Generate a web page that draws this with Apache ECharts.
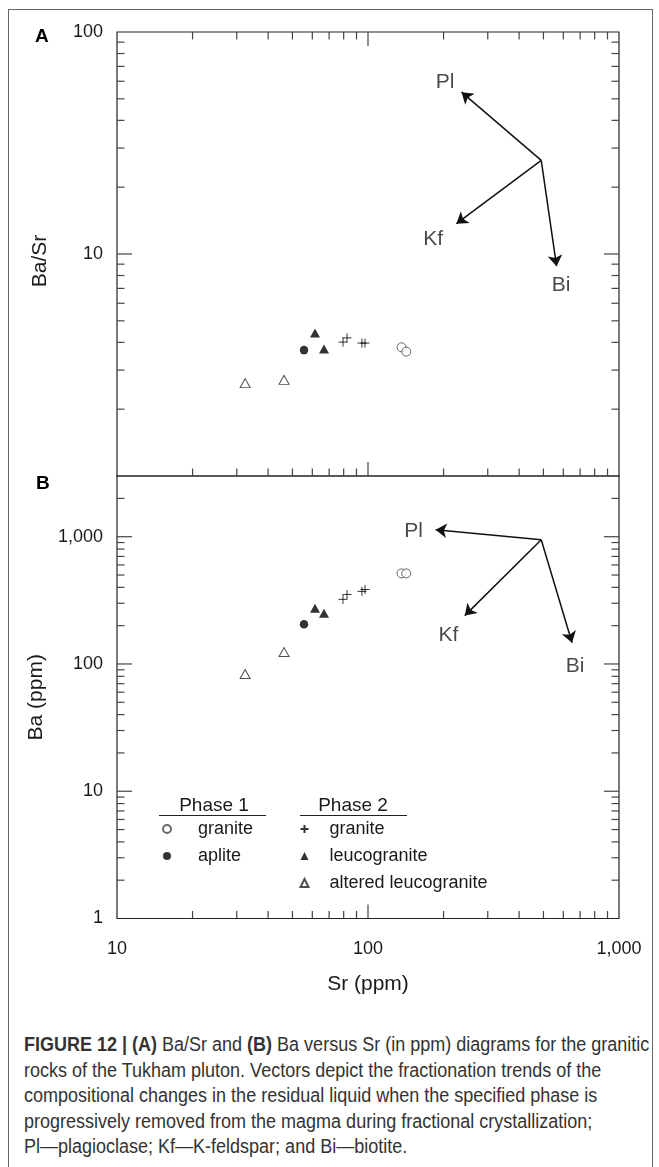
<!DOCTYPE html>
<html>
<head>
<meta charset="utf-8">
<title>Ba/Sr and Ba vs Sr</title>
<script src="https://cdn.jsdelivr.net/npm/echarts@6/dist/echarts.min.js"></script>
<style>
  html, body { margin: 0; padding: 0; background: #fff; width: 659px; height: 1167px; overflow: hidden; }
  #frame { position: absolute; left: 8px; top: 9px; width: 645px; height: 1220px; border: 1px solid #666; box-sizing: border-box; }
  #main { position: absolute; left: 0; top: 0; width: 659px; height: 1010px; }
  #caption {
    position: absolute; left: 24px; top: 1032px;
    font-family: 'Liberation Sans', Arial, sans-serif;
    font-size: 20px; line-height: 25.5px; color: #333; white-space: nowrap;
    transform: scaleX(0.9); transform-origin: 0 0;
  }
</style>
</head>
<body>
<div id="frame"></div>
<div id="main"></div>
<div id="caption">
  <b>FIGURE 12 | (A)</b> Ba/Sr and <b>(B)</b> Ba versus Sr (in ppm) diagrams for the granitic<br>
  rocks of the Tukham pluton. Vectors depict the fractionation trends of the<br>
  compositional changes in the residual liquid when the specified phase is<br>
  progressively removed from the magma during fractional crystallization;<br>
  Pl—plagioclase; Kf—K-feldspar; and Bi—biotite.
</div>
<script>
// ---- data ----
// Phase 1 granite (open circle)
const srGranite1 = [136, 142];
const baSrGranite1 = [3.80, 3.63];
const baGranite1 = [515, 515];
// Phase 1 aplite (filled circle)
const srAplite = [55.6];
const baSrAplite = [3.69];
const baAplite = [205];
// Phase 2 granite (plus)
const srGranite2 = [79.5, 82.5, 94.6, 97.3];
const baSrGranite2 = [4.01, 4.19, 3.97, 3.97];
const baGranite2 = [322, 352, 372, 385];
// Phase 2 leucogranite (filled triangle)
const srLeuco = [61.5, 66.8];
const baSrLeuco = [4.41, 3.73];
const baLeuco = [274, 250];
// Phase 2 altered leucogranite (open triangle)
const srAltered = [32.4, 46.3];
const baSrAltered = [2.62, 2.71];
const baAltered = [83.5, 124];

// fractionation vectors
const vecNames = ['Pl', 'Kf', 'Bi'];
const vecStartA = [490, 26.4];
const vecEndSrA = [236, 225, 564];
const vecEndA = [53.6, 13.7, 8.81];
const vecLabelSrA = [203, 182, 588];
const vecLabelA = [59.2, 11.6, 7.25];
const vecStartB = [490, 947];
const vecEndSrB = [186, 243, 650];
const vecEndB = [1135, 240, 147];
const vecLabelSrB = [152, 209, 668];
const vecLabelB = [1114, 167, 95.6];

// tick values
const xMajorTicks = [100];
const xMinorTicks = [20, 30, 40, 50, 60, 70, 80, 90, 200, 300, 400, 500, 600, 700, 800, 900];
const yMajorTicksA = [10];
const yMinorTicksA = [2, 3, 4, 5, 6, 7, 8, 9, 20, 30, 40, 50, 60, 70, 80, 90];
const yMajorTicksB = [10, 100, 1000];
const yMinorTicksB = [2, 3, 4, 5, 6, 7, 8, 9, 20, 30, 40, 50, 60, 70, 80, 90,
  200, 300, 400, 500, 600, 700, 800, 900, 2000];

const legendPhase1 = ['granite (Phase 1)', 'aplite'];
const legendPhase2 = ['granite (Phase 2)', 'leucogranite', 'altered leucogranite'];

const FONT = "'Liberation Sans', Arial, sans-serif";
const INK = '#1a1a1a';
const TICK = '#444';

const zip = (xs, ys) => xs.map((x, i) => [x, ys[i]]);

// one scatter series per rock group
const groups = [
  { name: 'granite (Phase 1)', sr: srGranite1, a: baSrGranite1, b: baGranite1,
    symbol: 'circle', size: 9, style: { color: '#fff', borderColor: '#444', borderWidth: 1 } },
  { name: 'aplite', sr: srAplite, a: baSrAplite, b: baAplite,
    symbol: 'circle', size: 8.5, style: { color: '#000' } },
  { name: 'granite (Phase 2)', sr: srGranite2, a: baSrGranite2, b: baGranite2,
    symbol: 'path://M5,0V10M0,5H10', size: 9, style: { color: 'none', borderColor: '#000', borderWidth: 1 } },
  { name: 'leucogranite', sr: srLeuco, a: baSrLeuco, b: baLeuco,
    symbol: 'triangle', size: [10, 9], style: { color: '#000' } },
  { name: 'altered leucogranite', sr: srAltered, a: baSrAltered, b: baAltered,
    symbol: 'triangle', size: [10, 9], style: { color: '#fff', borderColor: '#222', borderWidth: 1 } }
];

const series = [];
groups.forEach(g => {
  series.push({
    name: g.name, type: 'scatter', xAxisIndex: 0, yAxisIndex: 0,
    symbol: g.symbol, symbolSize: g.size, itemStyle: g.style,
    data: zip(g.sr, g.a), z: 5
  });
  series.push({
    name: g.name, type: 'scatter', xAxisIndex: 1, yAxisIndex: 1,
    symbol: g.symbol, symbolSize: g.size, itemStyle: g.style,
    data: zip(g.sr, g.b), z: 5
  });
});

// arrows
function arrowSeries(idx, start, endSr, endY) {
  return {
    type: 'lines', coordinateSystem: 'cartesian2d', xAxisIndex: idx, yAxisIndex: idx,
    symbol: ['none', 'arrow'], symbolSize: 11,
    lineStyle: { color: '#111', width: 1.5, opacity: 1 },
    data: endSr.map((s, i) => ({ coords: [start, [s, endY[i]]] })),
    silent: true, z: 4
  };
}
function vecLabelSeries(idx, srs, ys) {
  return {
    type: 'scatter', xAxisIndex: idx, yAxisIndex: idx, symbolSize: 0,
    label: { show: true, position: 'inside', formatter: '{b}', color: INK, fontSize: 21, fontFamily: FONT },
    data: vecNames.map((n, i) => ({ name: n, value: [srs[i], ys[i]] })),
    silent: true
  };
}
series.push(arrowSeries(0, vecStartA, vecEndSrA, vecEndA));
series.push(arrowSeries(1, vecStartB, vecEndSrB, vecEndB));
series.push(vecLabelSeries(0, vecLabelSrA, vecLabelA));
series.push(vecLabelSeries(1, vecLabelSrB, vecLabelB));

// log ticks drawn through the axes' scales
const X_RANGE = [10, 1000];
function yTickSeries(idx, majors, minors) {
  const data = majors.map(v => [X_RANGE[0], v, 1]).concat(minors.map(v => [X_RANGE[0], v, 0]));
  return {
    type: 'custom', xAxisIndex: idx, yAxisIndex: idx, silent: true, z: 3,
    encode: { x: 0, y: 1 },
    renderItem: (params, api) => {
      const v = api.value(1);
      const len = api.value(2) ? 15 : 7.5;
      const pl = api.coord([X_RANGE[0], v]);
      const pr = api.coord([X_RANGE[1], v]);
      const st = { stroke: TICK, lineWidth: 1.2 };
      return { type: 'group', children: [
        { type: 'line', shape: { x1: pl[0], y1: pl[1], x2: pl[0] + len, y2: pl[1] }, style: st },
        { type: 'line', shape: { x1: pr[0] - len, y1: pr[1], x2: pr[0], y2: pr[1] }, style: st }
      ] };
    },
    data: data
  };
}
function xTickSeries(idx, yRange, top) {
  const data = xMajorTicks.map(v => [v, yRange[0], 1]).concat(xMinorTicks.map(v => [v, yRange[0], 0]));
  return {
    type: 'custom', xAxisIndex: idx, yAxisIndex: idx, silent: true, z: 3,
    encode: { x: 0, y: 1 },
    renderItem: (params, api) => {
      const v = api.value(0);
      const len = api.value(2) ? 14 : 7.5;
      const pb = api.coord([v, yRange[0]]);
      const pt = api.coord([v, yRange[1]]);
      const st = { stroke: TICK, lineWidth: 1.2 };
      const kids = [{ type: 'line', shape: { x1: pb[0], y1: pb[1], x2: pb[0], y2: pb[1] - len }, style: st }];
      if (top) kids.push({ type: 'line', shape: { x1: pt[0], y1: pt[1], x2: pt[0], y2: pt[1] + len }, style: st });
      return { type: 'group', children: kids };
    },
    data: data
  };
}
series.push(yTickSeries(0, yMajorTicksA, yMinorTicksA));
series.push(yTickSeries(1, yMajorTicksB, yMinorTicksB));
series.push(xTickSeries(0, [1, 100], true));
series.push(xTickSeries(1, [1, 3000], false));

const isDecade = v => Math.abs(Math.log10(v) - Math.round(Math.log10(v))) < 1e-6;
const fmt = v => Math.round(v).toLocaleString('en-US');

const labelStyle = { color: INK, fontSize: 18, fontFamily: FONT };
const nameStyle = { color: INK, fontSize: 21, fontFamily: FONT };

const legendCommon = {
  orient: 'vertical', itemGap: 7, itemWidth: 8, itemHeight: 8,
  selectedMode: false,
  formatter: n => n.replace(/ \(Phase \d\)/, '')
};
const legendText = pad => ({ color: INK, fontSize: 18, fontFamily: FONT, lineHeight: 20, padding: [0, 0, 0, pad] });

const option = {
  animation: false,
  backgroundColor: 'transparent',
  grid: [
    { left: 117, top: 32, width: 502, height: 444, show: true, borderColor: '#222', borderWidth: 1.2 },
    { left: 117, top: 476, width: 502, height: 442.5, show: true, borderColor: '#222', borderWidth: 1.2 }
  ],
  xAxis: [
    { type: 'log', gridIndex: 0, min: 10, max: 1000, axisLine: { show: false }, axisTick: { show: false },
      splitLine: { show: false }, axisLabel: { show: false } },
    { type: 'log', gridIndex: 1, min: 10, max: 1000, axisLine: { show: false }, axisTick: { show: false },
      splitLine: { show: false },
      axisLabel: Object.assign({ margin: 22, formatter: v => isDecade(v) ? fmt(v) : '' }, labelStyle),
      name: 'Sr (ppm)', nameLocation: 'middle', nameGap: 55, nameTextStyle: nameStyle }
  ],
  yAxis: [
    { type: 'log', gridIndex: 0, min: 1, max: 100, axisLine: { show: false }, axisTick: { show: false },
      splitLine: { show: false },
      axisLabel: Object.assign({ margin: 14, formatter: v => (isDecade(v) && Math.round(v) > 1) ? fmt(v) : '' }, labelStyle),
      name: 'Ba/Sr', nameLocation: 'middle', nameGap: 66,
      nameTextStyle: Object.assign({ padding: [0, 14, 0, 0] }, nameStyle) },
    { type: 'log', gridIndex: 1, min: 1, max: 3000, axisLine: { show: false }, axisTick: { show: false },
      splitLine: { show: false },
      axisLabel: Object.assign({ margin: 14, formatter: v => isDecade(v) ? fmt(v) : '' }, labelStyle),
      name: 'Ba (ppm)', nameLocation: 'middle', nameGap: 66, nameTextStyle: nameStyle }
  ],
  legend: [
    Object.assign({ left: 157, top: 814, data: legendPhase1, textStyle: legendText(22) }, legendCommon),
    Object.assign({ left: 293, top: 814, data: legendPhase2, textStyle: legendText(16) }, legendCommon)
  ],
  graphic: [
    { type: 'text', left: 35, top: 27, style: { text: 'A', font: "bold 19px 'Liberation Sans', Arial", fill: '#000' } },
    { type: 'text', left: 36, top: 474, style: { text: 'B', font: "bold 19px 'Liberation Sans', Arial", fill: '#000' } },
    { type: 'text', x: 214, y: 806, style: { text: 'Phase 1', font: "19px 'Liberation Sans', Arial", fill: INK, align: 'center', verticalAlign: 'middle' } },
    { type: 'text', x: 353, y: 806, style: { text: 'Phase 2', font: "19px 'Liberation Sans', Arial", fill: INK, align: 'center', verticalAlign: 'middle' } },
    { type: 'line', shape: { x1: 159, y1: 815.5, x2: 266, y2: 815.5 }, style: { stroke: '#222', lineWidth: 1 } },
    { type: 'line', shape: { x1: 300, y1: 815.5, x2: 407, y2: 815.5 }, style: { stroke: '#222', lineWidth: 1 } }
  ],
  series: series
};

const chart = echarts.init(document.getElementById('main'), null, { renderer: 'canvas' });
chart.setOption(option);
</script>
</body>
</html>
